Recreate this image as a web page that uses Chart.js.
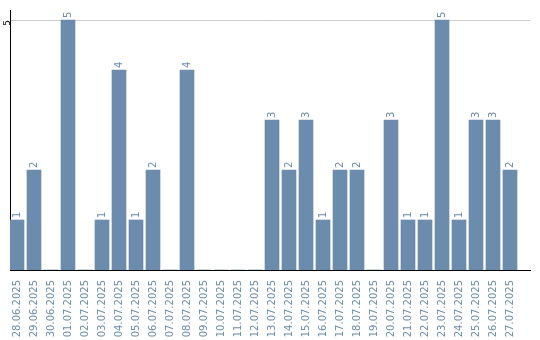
<!DOCTYPE html>
<html>
<head>
<meta charset="utf-8">
<script src="https://cdn.jsdelivr.net/npm/chart.js@4"></script>
<style>
  html, body { margin: 0; padding: 0; background: #fff; }
  #wrap { width: 540px; height: 340px; }
</style>
</head>
<body>
<div id="wrap"><canvas id="barChart" width="540" height="340"></canvas></div>
<script>
// days shown on the x axis
var days = ['28.06.2025', '29.06.2025', '30.06.2025', '01.07.2025', '02.07.2025', '03.07.2025',
  '04.07.2025', '05.07.2025', '06.07.2025', '07.07.2025', '08.07.2025', '09.07.2025',
  '10.07.2025', '11.07.2025', '12.07.2025', '13.07.2025', '14.07.2025', '15.07.2025',
  '16.07.2025', '17.07.2025', '18.07.2025', '19.07.2025', '20.07.2025', '21.07.2025',
  '22.07.2025', '23.07.2025', '24.07.2025', '25.07.2025', '26.07.2025', '27.07.2025'];
// count per day
var counts = [1, 2, 0, 5, 0, 1, 4, 1, 2, 0, 4, 0, 0, 0, 0, 3, 2, 3, 1, 2, 2, 0, 3, 1, 1, 5, 1, 3, 3, 2];
var yTicks = [5];

var barColor = '#6b8cac';

var points = [];
for (var i = 0; i < counts.length; i++) {
  points.push({x: i, y: counts[i]});
}

// writes the value above each bar, turned on its side
var barValues = {
  id: 'barValues',
  afterDatasetsDraw: function(chart) {
    var ctx = chart.ctx;
    var meta = chart.getDatasetMeta(0);
    ctx.save();
    ctx.fillStyle = barColor;
    ctx.font = '10px "DejaVu Sans"';
    ctx.textAlign = 'left';
    ctx.textBaseline = 'middle';
    meta.data.forEach(function(bar, i) {
      if (!counts[i]) return;
      ctx.save();
      ctx.translate(bar.x, bar.y - 2);
      ctx.rotate(-Math.PI / 2);
      ctx.fillText(String(counts[i]), 0, 0);
      ctx.restore();
    });
    ctx.restore();
  }
};

new Chart(document.getElementById('barChart'), {
  type: 'bar',
  data: {
    datasets: [{
      data: points,
      backgroundColor: barColor,
      barThickness: 14
    }]
  },
  options: {
    responsive: false,
    animation: false,
    layout: { padding: { top: 10, right: 10, left: 0, bottom: 0 } },
    plugins: { legend: { display: false }, tooltip: { enabled: false } },
    scales: {
      x: {
        type: 'linear',
        offset: false,
        min: -7 / 17,
        max: 513 / 17,
        afterBuildTicks: function(s) {
          s.ticks = days.map(function(d, i) { return {value: i}; });
        },
        afterFit: function(s) { s.height = 70; },
        grid: { display: false, offset: false },
        border: { color: '#000', width: 1 },
        ticks: {
          autoSkip: false,
          minRotation: 90,
          maxRotation: 90,
          padding: 2,
          color: barColor,
          font: { family: 'DejaVu Sans', size: 10 },
          callback: function(v) { return days[v]; }
        }
      },
      y: {
        min: 0,
        max: 5.2,
        afterBuildTicks: function(s) {
          s.ticks = yTicks.map(function(v) { return {value: v}; });
        },
        afterFit: function(s) { s.width = 10; },
        grid: { color: '#cccccc', drawTicks: false },
        border: { color: '#000', width: 1 },
        ticks: {
          minRotation: 90,
          maxRotation: 90,
          padding: 2,
          color: '#000',
          font: { family: 'DejaVu Sans', size: 9 }
        }
      }
    }
  },
  plugins: [barValues]
});
</script>
</body>
</html>
